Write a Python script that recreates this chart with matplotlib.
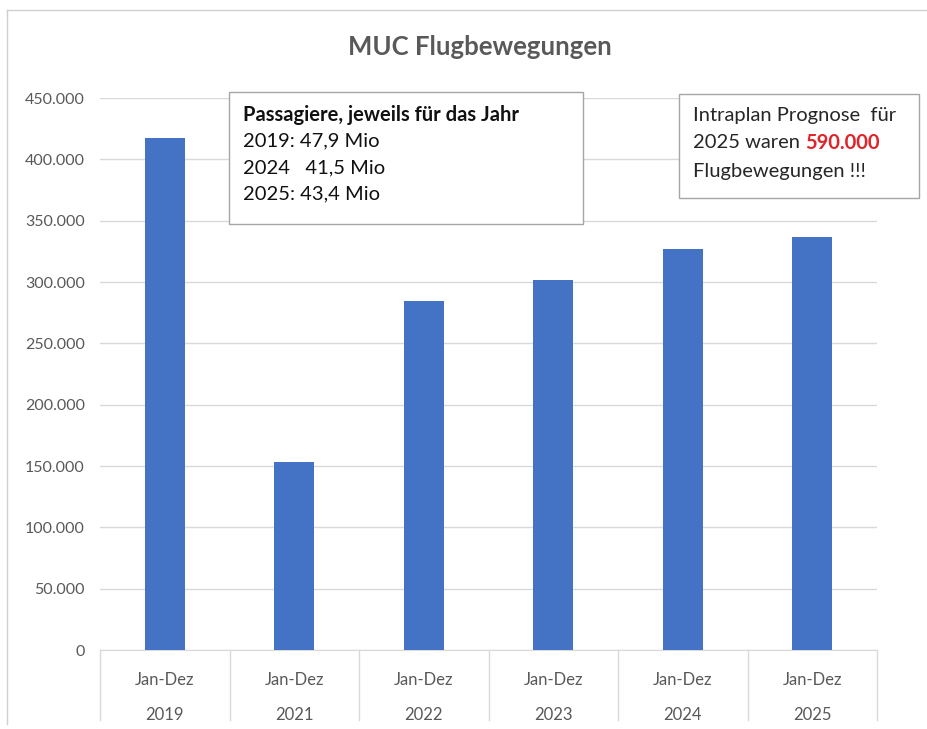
import matplotlib
matplotlib.use('Agg')
import matplotlib.pyplot as plt
from matplotlib.lines import Line2D
from matplotlib.ticker import FuncFormatter

plt.rcParams['font.family'] = ['Lato', 'DejaVu Sans']

years = ['2019', '2021', '2022', '2023', '2024', '2025']
periods = ['Jan-Dez'] * 6
movements = [417000, 153000, 284500, 301600, 327000, 336800]

passenger_lines = ['2019: 47,9 Mio', '2024   41,5 Mio', '2025: 43,4 Mio']

BAR_BLUE = '#4472c4'
GRID_GRAY = '#d9d9d9'
TEXT_GRAY = '#595959'

fig = plt.figure(figsize=(9.27, 7.29), dpi=100)
fig.patch.set_facecolor('white')
W, H = 927, 729

def fx(px):
    return px / W

def fy(py):
    return 1 - py / H

# outer chart frame (left and top edges visible in the picture)
fig.add_artist(Line2D([fx(7), fx(7)], [fy(10), fy(724)], color='#d0d0d0', lw=1.0))
fig.add_artist(Line2D([fx(7), fx(927)], [fy(10), fy(10)], color='#d0d0d0', lw=1.0))

ax = fig.add_axes([fx(100), fy(650), fx(877) - fx(100), fy(98) - fy(650)])
positions = list(range(len(years)))
ax.bar(positions, movements, width=0.31, color=BAR_BLUE, zorder=3)
ax.set_xlim(-0.5, len(years) - 0.5)
ax.set_ylim(0, 450000)
ax.set_yticks(range(0, 450001, 50000))
ax.yaxis.set_major_formatter(FuncFormatter(lambda v, p: '{:,.0f}'.format(v).replace(',', '.')))
ax.grid(axis='y', color=GRID_GRAY, lw=1.0, zorder=0)
for side in ['top', 'right', 'left']:
    ax.spines[side].set_visible(False)
ax.spines['bottom'].set_color(GRID_GRAY)
ax.tick_params(axis='y', length=0, pad=11, labelsize=11.5, labelcolor=TEXT_GRAY)
ax.tick_params(axis='x', length=0, labelbottom=False)

# two level category axis
sep_top = fy(650)
sep_bot = fy(720)
for i in range(len(years) + 1):
    x = fx(100) + i * (fx(877) - fx(100)) / len(years)
    fig.add_artist(Line2D([x, x], [sep_top, sep_bot], color=GRID_GRAY, lw=1.0))
for i, (per, yr) in enumerate(zip(periods, years)):
    ax.text(i, -0.055, per, transform=ax.get_xaxis_transform(), ha='center', va='center',
            fontsize=12, color=TEXT_GRAY)
    ax.text(i, -0.118, yr, transform=ax.get_xaxis_transform(), ha='center', va='center',
            fontsize=12, color=TEXT_GRAY)

fig.text(fx(480), fy(47), 'MUC Flugbewegungen', ha='center', va='center',
         fontsize=18.5, fontweight='bold', color=TEXT_GRAY)

# passenger box
fig.patches.append(plt.Rectangle((fx(229), fy(224)), fx(583) - fx(229), fy(92) - fy(224),
                                 transform=fig.transFigure, facecolor='white',
                                 edgecolor='#a6a6a6', lw=1.0, zorder=5))
fig.text(fx(243), fy(115), 'Passagiere, jeweils für das Jahr', ha='left', va='center',
         fontsize=14.5, fontweight='bold', color='#111111', zorder=6)
for k, line in enumerate(passenger_lines):
    fig.text(fx(243), fy(141 + k * 26.5), line, ha='left', va='center',
             fontsize=14.5, color='#111111', zorder=6)

# forecast box
fig.patches.append(plt.Rectangle((fx(679), fy(198)), fx(919) - fx(679), fy(94) - fy(198),
                                 transform=fig.transFigure, facecolor='white',
                                 edgecolor='#a6a6a6', lw=1.0, zorder=5))
fig.text(fx(693), fy(115), 'Intraplan Prognose  für', ha='left', va='center',
         fontsize=14.5, color='#262626', zorder=6)
t = fig.text(fx(693), fy(143), '2025 waren ', ha='left', va='center',
             fontsize=14.5, color='#262626', zorder=6)
fig.canvas.draw()
bb = t.get_window_extent().transformed(fig.transFigure.inverted())
fig.text(bb.x1, fy(143), '590.000', ha='left', va='center',
         fontsize=14.5, fontweight='bold', color='#e0242a', zorder=6)
fig.text(fx(693), fy(171), 'Flugbewegungen !!!', ha='left', va='center',
         fontsize=14.5, color='#262626', zorder=6)

fig.savefig('out.png', dpi=100, facecolor='white')
